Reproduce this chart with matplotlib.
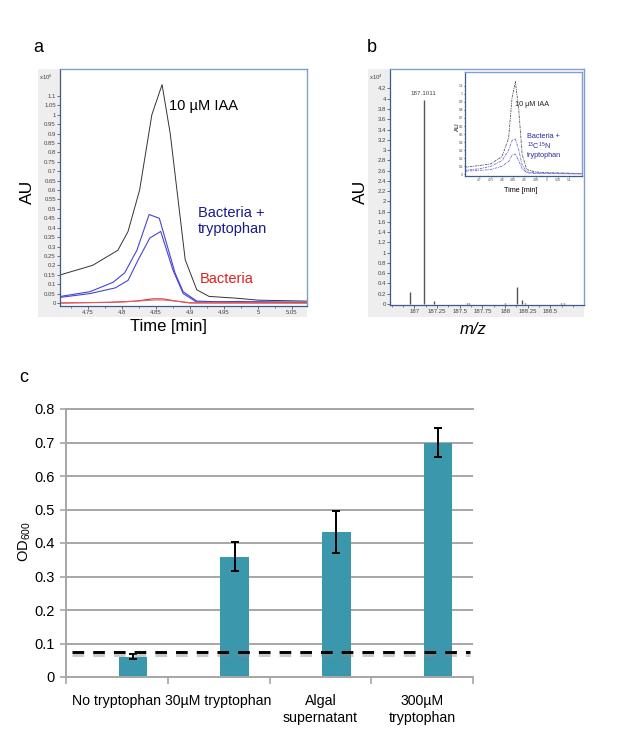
import matplotlib
matplotlib.use("Agg")
import matplotlib.pyplot as plt
import matplotlib.patheffects as pe
from matplotlib.patches import Rectangle
from matplotlib.ticker import MultipleLocator

plt.rcParams['font.family'] = ['Liberation Sans', 'DejaVu Sans']
plt.rcParams['mathtext.default'] = 'regular'

W, H = 617, 756

# ---- panel a: extracted ion chromatograms ----
iaa_t = [4.71, 4.757, 4.794, 4.809, 4.826, 4.844, 4.859, 4.871, 4.893, 4.91, 4.928, 4.97, 5.0, 5.072]
iaa_v = [0.15, 0.20, 0.28, 0.38, 0.60, 1.00, 1.16, 0.90, 0.23, 0.07, 0.035, 0.025, 0.015, 0.01]

trp1_t = [4.71, 4.753, 4.787, 4.804, 4.822, 4.84, 4.855, 4.878, 4.89, 4.91, 4.95, 5.0, 5.072]
trp1_v = [0.035, 0.06, 0.11, 0.16, 0.28, 0.47, 0.45, 0.16, 0.06, 0.01, 0.005, 0.005, 0.003]
trp2_t = [4.71, 4.753, 4.79, 4.809, 4.824, 4.841, 4.857, 4.875, 4.89, 4.91, 4.97, 5.0, 5.072]
trp2_v = [0.03, 0.05, 0.08, 0.12, 0.23, 0.345, 0.38, 0.175, 0.05, 0.005, 0.008, 0.006, 0.003]

bac1_t = [4.71, 4.78, 4.82, 4.845, 4.86, 4.88, 4.9, 4.95, 5.072]
bac1_v = [0.0, 0.003, 0.01, 0.022, 0.022, 0.01, 0.0, 0.0, 0.0]
bac2_t = [4.71, 4.8, 4.85, 4.865, 4.9, 4.95, 5.072]
bac2_v = [0.0, 0.005, 0.016, 0.015, 0.002, 0.001, 0.0]

# ---- panel b: mass spectrum ----
mz = [186.955, 187.1011, 187.215, 187.58, 187.60, 188.0, 188.13, 188.19, 188.22, 188.62, 188.65]
abund = [0.23, 3.98, 0.06, 0.02, 0.02, 0.01, 0.34, 0.08, 0.02, 0.02, 0.015]

# inset chromatograms (13C15N label)
ins_t = [4.636, 4.7, 4.75, 4.8, 4.83, 4.845, 4.86, 4.875, 4.89, 4.91, 4.95, 5.0, 5.156]
ins_iaa = [0.09, 0.11, 0.13, 0.22, 0.45, 0.95, 1.15, 0.80, 0.25, 0.06, 0.03, 0.02, 0.01]
ins_lab1 = [0.05, 0.07, 0.10, 0.17, 0.30, 0.42, 0.44, 0.30, 0.12, 0.03, 0.02, 0.02, 0.01]
ins_lab2 = [0.04, 0.05, 0.06, 0.10, 0.16, 0.24, 0.25, 0.17, 0.07, 0.02, 0.01, 0.01, 0.005]

# ---- panel c: growth ----
conditions = ['No tryptophan', '30µM tryptophan', 'Algal\nsupernatant', '300µM\ntryptophan']
od600 = [0.061, 0.359, 0.432, 0.699]
od600_err = [0.008, 0.043, 0.063, 0.043]
baseline = 0.0755


def px_axes(fig, x0, y0, x1, y1):
    return fig.add_axes([x0 / W, 1 - y1 / H, (x1 - x0) / W, (y1 - y0) / H])


def gray_box(fig, x0, y0, x1, y1):
    fig.patches.append(Rectangle((x0 / W, 1 - y1 / H), (x1 - x0) / W, (y1 - y0) / H,
                                 transform=fig.transFigure, facecolor='#eeeeee',
                                 edgecolor='none', zorder=-1))


def agilent_style(ax, size):
    for s in ['top', 'right']:
        ax.spines[s].set_color('#7f9fcc')
        ax.spines[s].set_linewidth(1.0)
    for s in ['left', 'bottom']:
        ax.spines[s].set_color('#3d5a8a')
        ax.spines[s].set_linewidth(0.9)
    ax.tick_params(labelsize=size, colors='#3d5a8a', labelcolor='#444444',
                   length=2, width=0.6, pad=1)
    ax.tick_params(which='minor', length=1.5, width=0.5, colors='#3d5a8a')


fig = plt.figure(figsize=(W / 100, H / 100), dpi=100)

# panel a
gray_box(fig, 38, 69, 307, 317)
ax_a = px_axes(fig, 60, 69, 307, 306)
ax_a.plot(iaa_t, iaa_v, color='#333333', lw=0.7)
ax_a.plot(trp1_t, trp1_v, color='#4545d5', lw=0.8)
ax_a.plot(trp2_t, trp2_v, color='#4545d5', lw=0.8)
ax_a.plot(bac1_t, bac1_v, color='#e03030', lw=0.8)
ax_a.plot(bac2_t, bac2_v, color='#e06060', lw=0.7)
ax_a.set_xlim(4.709, 5.072)
ax_a.set_ylim(-0.016, 1.243)
ax_a.set_yticks([i * 0.05 for i in range(23)])
ax_a.set_yticklabels(['%g' % round(i * 0.05, 2) for i in range(23)])
ax_a.set_xticks([4.75, 4.8, 4.85, 4.9, 4.95, 5.0, 5.05])
ax_a.set_xticklabels(['4.75', '4.8', '4.85', '4.9', '4.95', '5', '5.05'])
ax_a.xaxis.set_minor_locator(MultipleLocator(0.025))
agilent_style(ax_a, 4.3)
ax_a.text(0.44, 0.825, '10 µM IAA', transform=ax_a.transAxes, fontsize=10.5, color='black')
ax_a.text(0.557, 0.31, 'Bacteria +\ntryptophan', transform=ax_a.transAxes, fontsize=10.5,
          color='#1a1a8c', linespacing=1.1)
ax_a.text(0.565, 0.095, 'Bacteria', transform=ax_a.transAxes, fontsize=10.5, color='#e02020')
fig.text(39 / W, 1 - 80 / H, 'x10$^{6}$', fontsize=4.3, color='#444444')
fig.text(27 / W, 1 - 192 / H, 'AU', fontsize=12.5, rotation=90, ha='center', va='center')
fig.text(168 / W, 1 - 327 / H, 'Time [min]', fontsize=12, ha='center', va='center')
fig.text(38 / W, 1 - 48 / H, 'a', fontsize=13, ha='center', va='center')

# panel b
gray_box(fig, 368, 69, 584, 317)
ax_b = px_axes(fig, 390, 69, 584, 305)
ax_b.vlines(mz, 0, abund, color='#555555', lw=1.0)
ax_b.set_xlim(186.73, 188.87)
ax_b.set_ylim(-0.02, 4.58)
ax_b.set_yticks([i * 0.2 for i in range(22)])
ax_b.set_yticklabels(['%g' % round(i * 0.2, 1) for i in range(22)])
ax_b.set_xticks([187, 187.25, 187.5, 187.75, 188, 188.25, 188.5])
ax_b.set_xticklabels(['187', '187.25', '187.5', '187.75', '188', '188.25', '188.5'])
ax_b.xaxis.set_minor_locator(MultipleLocator(0.125))
agilent_style(ax_b, 4.3)
ax_b.text(mz[1], abund[1] + 0.1, '%.4f' % mz[1], fontsize=4.5, color='#444444', ha='center')
fig.text(369 / W, 1 - 80 / H, 'x10$^{4}$', fontsize=4.3, color='#444444')
fig.text(360 / W, 1 - 192 / H, 'AU', fontsize=12.5, rotation=90, ha='center', va='center')
fig.text(473 / W, 1 - 330 / H, 'm/z', fontsize=12, style='italic', ha='center', va='center')
fig.text(372 / W, 1 - 48 / H, 'b', fontsize=13, ha='center', va='center')

# inset in b
gray_box(fig, 453, 72, 582, 185)
ax_in = px_axes(fig, 465, 72, 582, 176)
ax_in.plot(ins_t, ins_iaa, color='#555555', lw=0.6, ls=(0, (3, 1, 1, 1)))
ax_in.plot(ins_t, ins_lab1, color='#6a6ad8', lw=0.6, ls=(0, (3, 1, 1, 1)))
ax_in.plot(ins_t, ins_lab2, color='#6a6ad8', lw=0.6, ls=(0, (3, 1, 1, 1)))
ax_in.set_xlim(4.636, 5.156)
ax_in.set_ylim(-0.02, 1.27)
ax_in.set_yticks([i * 0.1 for i in range(12)])
ax_in.set_yticklabels(['%g' % round(i * 0.1, 1) for i in range(12)])
ax_in.set_xticks([4.7, 4.75, 4.8, 4.85, 4.9, 4.95, 5.0, 5.05, 5.1])
ax_in.set_xticklabels(['4.7', '4.75', '4.8', '4.85', '4.9', '4.95', '5', '5.05', '5.1'])
agilent_style(ax_in, 2.3)
ax_in.tick_params(length=1, pad=0.5)
ax_in.text(0.43, 0.67, '10 µM IAA', transform=ax_in.transAxes, fontsize=5.2, color='#222222')
ax_in.text(0.53, 0.185, 'Bacteria +\n$^{13}$C$^{15}$N\ntryptophan', transform=ax_in.transAxes,
           fontsize=5.2, color='#2a2aa0', linespacing=1.05)
fig.text(457 / W, 1 - 127 / H, 'AU', fontsize=4.5, rotation=90, ha='center', va='center')
fig.text(521 / W, 1 - 190 / H, 'Time [min]', fontsize=5.2, ha='center', va='center')

# panel c
ax_c = px_axes(fig, 66, 409, 473, 677)
xpos = range(len(conditions))
bar_x = [i + 0.157 for i in xpos]
ax_c.bar(bar_x, od600, width=0.28, color='#3a97ac', zorder=2)
ax_c.errorbar(bar_x, od600, yerr=od600_err, fmt='none', ecolor='black', elinewidth=1.4,
              capsize=3, capthick=1.4, zorder=3)
ax_c.axhline(baseline, xmin=0.015, xmax=0.993, color='black', lw=2.1, ls=(0, (4.0, 3.1)),
             zorder=4, path_effects=[pe.SimpleLineShadow(offset=(0, -2.5), shadow_color='#888888',
                                                         alpha=0.45), pe.Normal()])
ax_c.set_xlim(-0.5, 3.5)
ax_c.set_ylim(0, 0.8)
ax_c.set_yticks([i / 10 for i in range(9)])
ax_c.set_yticklabels(['0'] + ['%.1f' % (i / 10) for i in range(1, 9)])
ax_c.yaxis.grid(True, color='#a6a6a6', lw=1.4)
ax_c.set_axisbelow(True)
ax_c.set_xticks(list(xpos))
ax_c.set_xticklabels(conditions, fontsize=10.2, linespacing=1.3)
ax_c.set_xticks([-0.5, 0.5, 1.5, 2.5, 3.5], minor=True)
ax_c.tick_params(axis='x', which='major', length=0, pad=12)
ax_c.tick_params(axis='x', which='minor', length=5, width=1.2, color='#a6a6a6')
ax_c.tick_params(axis='y', length=4, width=1.2, color='#a6a6a6', labelsize=10.5, pad=4)
ax_c.spines['right'].set_visible(False)
for s in ['left', 'bottom', 'top']:
    ax_c.spines[s].set_color('#a6a6a6')
    ax_c.spines[s].set_linewidth(1.4)
fig.text(25 / W, 1 - 542 / H, 'OD$_{600}$', fontsize=10.5, rotation=90, ha='center', va='center')
fig.text(24 / W, 1 - 378 / H, 'c', fontsize=13, ha='center', va='center')

fig.savefig('out.png', dpi=100)
